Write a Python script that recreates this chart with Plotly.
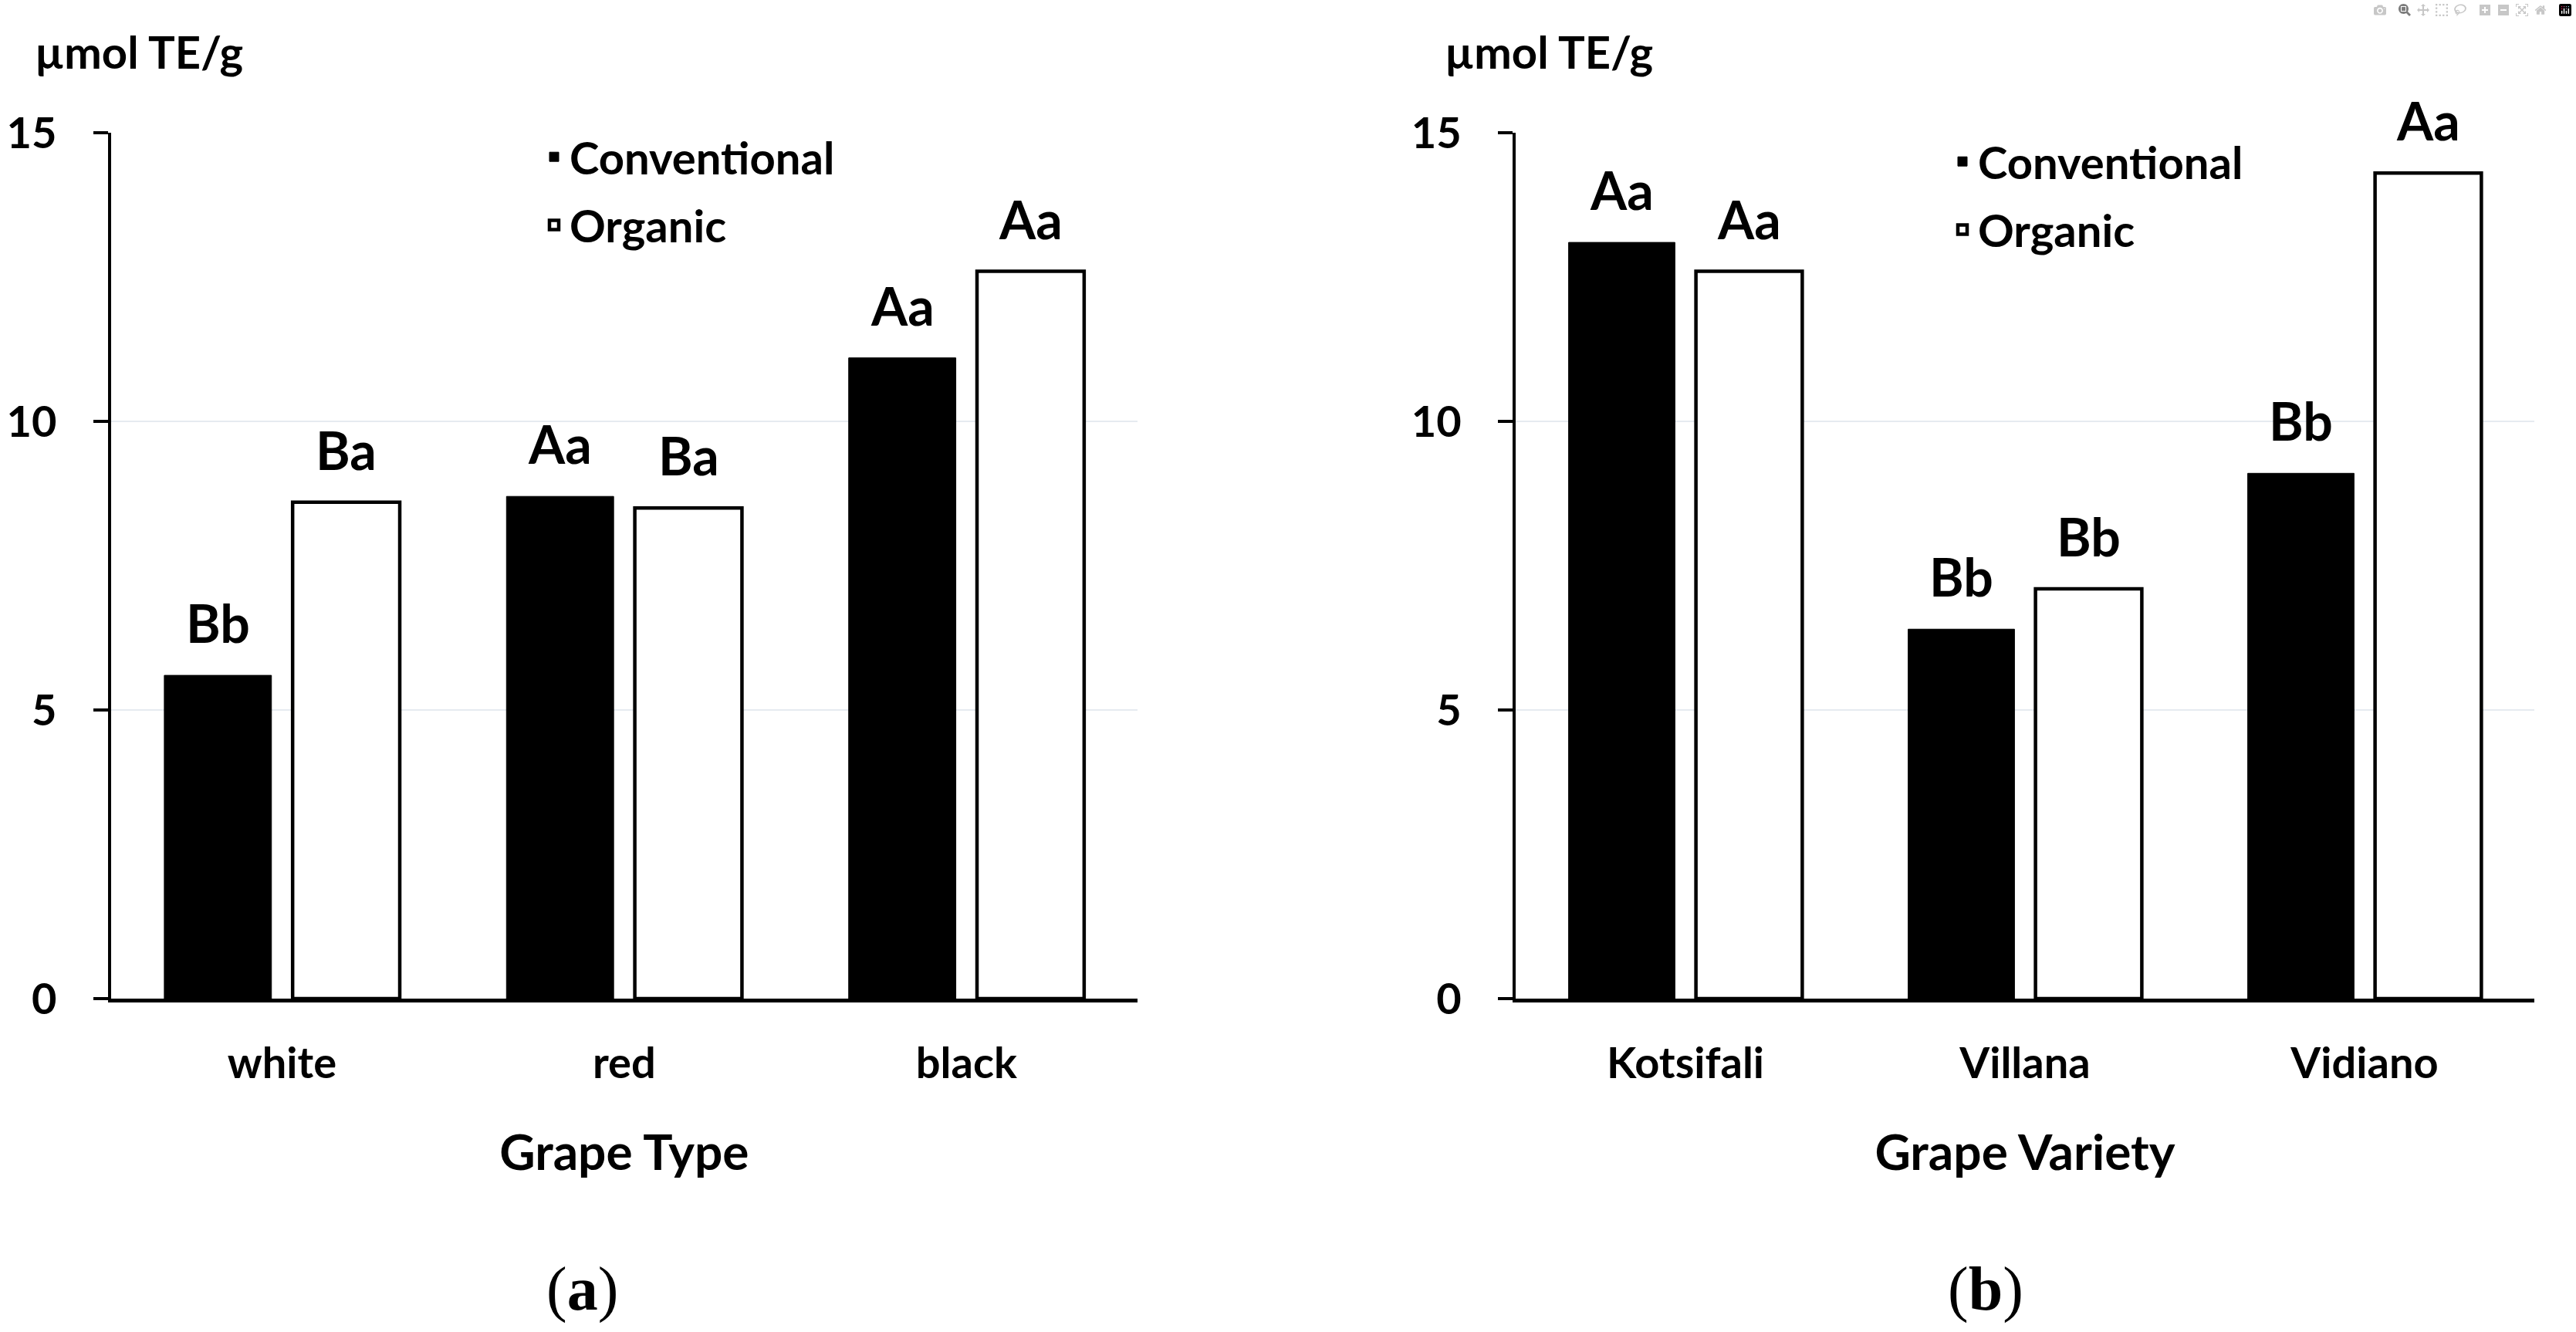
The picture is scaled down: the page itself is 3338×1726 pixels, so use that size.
import plotly.graph_objects as go

# ---------------- data ----------------
grape_types = ["white", "red", "black"]
conv_type = [5.6, 8.7, 11.1]
org_type = [8.6, 8.5, 12.6]
conv_type_letters = ["Bb", "Aa", "Aa"]
org_type_letters = ["Ba", "Ba", "Aa"]

varieties = ["Kotsifali", "Villana", "Vidiano"]
conv_var = [13.1, 6.4, 9.1]
org_var = [12.6, 7.1, 14.3]
conv_var_letters = ["Aa", "Bb", "Bb"]
org_var_letters = ["Aa", "Bb", "Aa"]

y_ticks = [0, 5, 10, 15]
series_names = ["Conventional", "Organic"]
x_titles = ["Grape Type", "Grape Variety"]
unit_label = "µmol TE/g"
captions = ["(<b>a</b>)", "(<b>b</b>)"]

# ---------------- style / layout ----------------
W, H = 3338, 1726
FONT = "Lato, 'Liberation Sans', sans-serif"
SERIF = "'Liberation Serif', 'DejaVu Serif', serif"
BARGAP = 0.25
GROUPGAP = 0.165
XDOM_A = [143.75 / W, 1474 / W]
XDOM_B = [1964 / W, 3284 / W]
YDOM = [1 - 1294 / H, 1 - 172 / H]
GRID = "#e6ebf0"

fig = go.Figure()

conv_style = dict(color="black", line=dict(color="black", width=1))
org_style = dict(color="white", line=dict(color="black", width=4.5))

fig.add_bar(x=grape_types, y=conv_type, name=series_names[0], marker=conv_style,
            xaxis="x", yaxis="y", legend="legend", legendgroup="a1")
fig.add_bar(x=grape_types, y=org_type, name=series_names[1], marker=org_style,
            xaxis="x", yaxis="y", legend="legend", legendgroup="a2")
fig.add_bar(x=varieties, y=conv_var, name=series_names[0], marker=conv_style,
            xaxis="x2", yaxis="y2", legend="legend2", legendgroup="b1")
fig.add_bar(x=varieties, y=org_var, name=series_names[1], marker=org_style,
            xaxis="x2", yaxis="y2", legend="legend2", legendgroup="b2")

annotations = []


def add_letters(cats, vals, letters, xref, yref, sign, dom):
    plot_w = (dom[1] - dom[0]) * W
    offset = plot_w / len(cats) * (1 - BARGAP) / 4
    for c, v, t in zip(cats, vals, letters):
        annotations.append(dict(
            x=c, y=v, xref=xref, yref=yref, text=t, showarrow=False,
            xanchor="center", yanchor="bottom", xshift=sign * offset, yshift=26,
            font=dict(family=FONT, size=68, color="black", weight="bold")))


add_letters(grape_types, conv_type, conv_type_letters, "x", "y", -1, XDOM_A)
add_letters(grape_types, org_type, org_type_letters, "x", "y", 1, XDOM_A)
add_letters(varieties, conv_var, conv_var_letters, "x2", "y2", -1, XDOM_B)
add_letters(varieties, org_var, org_var_letters, "x2", "y2", 1, XDOM_B)

for xpos in (43 / W, 1870 / W):
    annotations.append(dict(
        x=xpos, y=1 - 66 / H, xref="paper", yref="paper", text=unit_label,
        showarrow=False, xanchor="left", yanchor="middle",
        font=dict(family=FONT, size=58, color="black", weight="bold")))

for xpos, cap in zip((754 / W, 2573 / W), captions):
    annotations.append(dict(
        x=xpos, y=1 - 1670 / H, xref="paper", yref="paper", text=cap,
        showarrow=False, xanchor="center", yanchor="middle",
        font=dict(family=SERIF, size=80, color="black")))

tickfont = dict(family=FONT, size=56, color="black", weight="bold")
titlefont = dict(family=FONT, size=64, color="black", weight="bold")


def xaxis_cfg(dom, anchor, title):
    return dict(domain=dom, anchor=anchor, showline=True, linecolor="black",
                linewidth=5, ticks="", tickfont=tickfont, ticklabelstandoff=31,
                showgrid=False, zeroline=False, automargin=False,
                title=dict(text=title, font=titlefont, standoff=64))


def yaxis_cfg(anchor):
    return dict(domain=YDOM, anchor=anchor, range=[0, 15], tickvals=y_ticks,
                showline=True, linecolor="black", linewidth=4,
                ticks="outside", ticklen=19, tickwidth=4, tickcolor="black",
                tickfont=tickfont, ticklabelstandoff=36, automargin=False,
                showgrid=True, gridcolor=GRID, gridwidth=2, zeroline=False)


legend_font = dict(family=FONT, size=58, color="black", weight="bold")

fig.update_layout(
    width=W, height=H,
    margin=dict(l=0, r=0, t=0, b=0, autoexpand=False),
    paper_bgcolor="white", plot_bgcolor="white",
    barmode="group", bargap=BARGAP, bargroupgap=GROUPGAP,
    xaxis=xaxis_cfg(XDOM_A, "y", x_titles[0]),
    yaxis=yaxis_cfg("x"),
    xaxis2=xaxis_cfg(XDOM_B, "y2", x_titles[1]),
    yaxis2=yaxis_cfg("x2"),
    legend=dict(x=698 / W, y=1 - 159 / H, xanchor="left", yanchor="top",
                font=legend_font, bgcolor="rgba(0,0,0,0)", tracegroupgap=10),
    legend2=dict(x=2523 / W, y=1 - 165 / H, xanchor="left", yanchor="top",
                 font=legend_font, bgcolor="rgba(0,0,0,0)", tracegroupgap=10),
    annotations=annotations,
    showlegend=True,
)

fig.write_html("out.html", post_script="document.body.style.margin='0';")
